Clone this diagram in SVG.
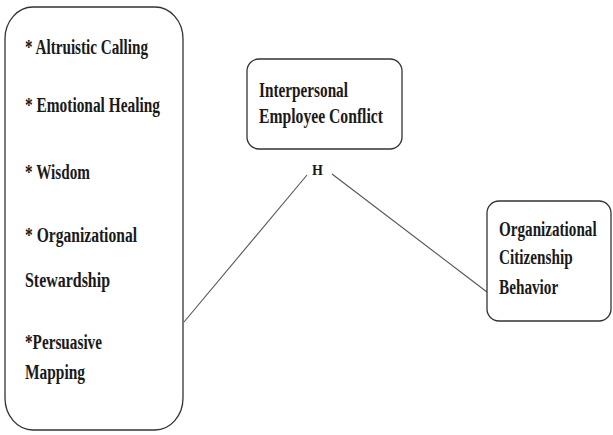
<svg xmlns="http://www.w3.org/2000/svg" width="613" height="435" viewBox="0 0 613 435">
<style>
.box{fill:#fff;stroke:#333;stroke-width:1.3}
.t{font-family:"Liberation Serif","Times New Roman",serif;font-size:20px;font-weight:bold;fill:#1a1a1a}
.h{font-family:"Liberation Serif","Times New Roman",serif;font-size:14px;font-weight:bold;fill:#1a1a1a}
.ln{stroke:#555;stroke-width:1.1;fill:none}
</style>
<rect width="613" height="435" fill="#fff"/>
<g id="connectors">
<line class="ln" x1="184" y1="322" x2="307" y2="175"/>
<line class="ln" x1="332" y1="174" x2="487" y2="292"/>
</g>
<g id="node-servant-leadership">
<rect class="box" x="5" y="7" width="178" height="423" rx="28" ry="32"/>
<text class="t" x="25" y="54" textLength="123" lengthAdjust="spacingAndGlyphs">* Altruistic Calling</text>
<text class="t" x="25" y="112" textLength="135" lengthAdjust="spacingAndGlyphs">* Emotional Healing</text>
<text class="t" x="25" y="179" textLength="65" lengthAdjust="spacingAndGlyphs">* Wisdom</text>
<text class="t" x="25" y="242" textLength="112" lengthAdjust="spacingAndGlyphs">* Organizational</text>
<text class="t" x="25" y="287" textLength="85" lengthAdjust="spacingAndGlyphs">Stewardship</text>
<text class="t" x="25" y="349" textLength="77" lengthAdjust="spacingAndGlyphs">*Persuasive</text>
<text class="t" x="25" y="379" textLength="60" lengthAdjust="spacingAndGlyphs">Mapping</text>
</g>
<g id="node-conflict">
<rect class="box" x="247" y="59" width="155" height="90" rx="12"/>
<text class="t" x="259" y="97" textLength="89" lengthAdjust="spacingAndGlyphs">Interpersonal</text>
<text class="t" x="259" y="123" textLength="124" lengthAdjust="spacingAndGlyphs">Employee Conflict</text>
</g>
<g id="label-h">
<text class="h" x="312" y="175">H</text>
</g>
<g id="node-ocb">
<rect class="box" x="487" y="201" width="124" height="120" rx="12"/>
<g transform="translate(499,0) scale(0.8,1)">
<text class="t" x="0" y="236" textLength="122" lengthAdjust="spacingAndGlyphs">Organizational</text>
<text class="t" x="0" y="264" textLength="92" lengthAdjust="spacingAndGlyphs">Citizenship</text>
<text class="t" x="0" y="294" textLength="74" lengthAdjust="spacingAndGlyphs">Behavior</text>
</g>
</g>
</svg>
